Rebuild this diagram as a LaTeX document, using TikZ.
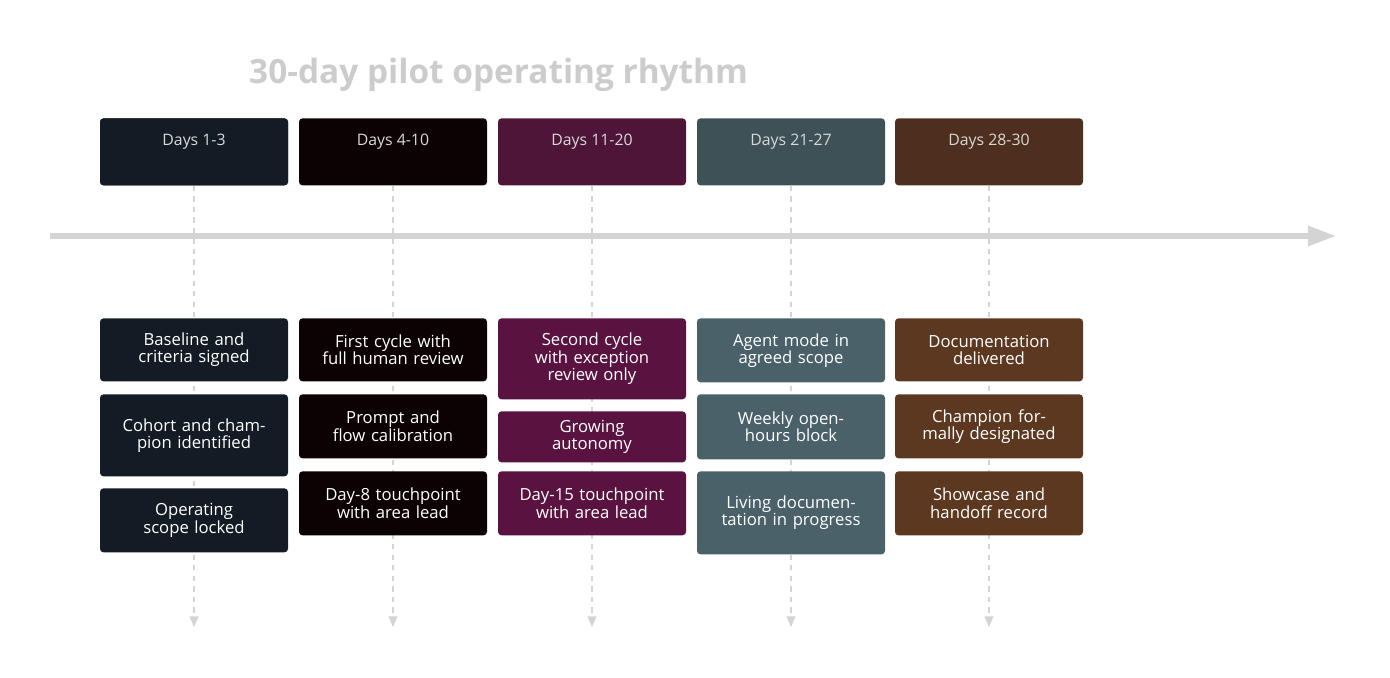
\documentclass[tikz,border=0pt]{standalone}
\usepackage{fontspec}
\setmainfont{Open Sans}
\usetikzlibrary{arrows.meta}
\definecolor{ttl}{HTML}{CCCCCC}
\definecolor{axis}{HTML}{D4D4D4}
\definecolor{hA}{HTML}{131C24}\definecolor{bA}{HTML}{131C24}
\definecolor{hB}{HTML}{0C0203}\definecolor{bB}{HTML}{0C0203}
\definecolor{hC}{HTML}{4F1538}\definecolor{bC}{HTML}{5A1340}
\definecolor{hD}{HTML}{3E5157}\definecolor{bD}{HTML}{4A616A}
\definecolor{hE}{HTML}{4E2E1E}\definecolor{bE}{HTML}{5C3820}
\tikzset{
  phase/.style={fill=#1, rounded corners=2pt, anchor=north, minimum width=188*0.02cm,
    minimum height=67*0.02cm, text=white!85!black, font=\fontsize{9}{10}\selectfont,
    text depth=0pt, inner sep=0pt},
  step/.style={fill=#1, rounded corners=2pt, anchor=north, minimum width=188*0.02cm,
    text width=150*0.02cm, align=center, text=white, inner sep=5pt,
    font=\fontsize{9.5}{9.8}\selectfont},
  guide/.style={draw=axis, dashed, line width=0.8pt, -{Triangle[width=5pt,length=6pt]}},
}
\begin{document}
\begin{tikzpicture}[x=0.02cm,y=-0.02cm]
  \useasboundingbox (0,0) rectangle (1390,678);
  \node[anchor=west, text=ttl, font=\fontsize{19}{20}\selectfont\bfseries] (title) at (243,75) {30-day pilot operating rhythm};

  % headers
  \node[phase=hA] (h1) at (194,118) {\raisebox{28pt}{}Days 1-3};
  \foreach \n/\x/\c/\t in {1/194/hA/Days 1-3, 2/393/hB/Days 4-10, 3/592/hC/Days 11-20, 4/791/hD/Days 21-27, 5/989/hE/Days 28-30}{
    \node[phase=\c, text height=9pt, yshift=0pt] (h\n) at (\x,118) {};
    \node[text=white!85!black, font=\fontsize{9}{10}\selectfont] (ht\n) at (\x,142) {\t};
    \coordinate (e\n) at (\x,627);
  }
  % guides behind the steps
  \foreach \n in {1,...,5}{ \draw[guide] (h\n.south) -- (e\n); }

  % axis
  \coordinate (a0) at (50,236);
  \coordinate (a1) at (1336,236);
  \draw[axis, line width=3pt, -{Triangle[width=11pt,length=16pt]}] (a0) -- (a1);

  % steps
  \node[step=bA, minimum height=63*0.02cm] (s11) at (194,318) {Baseline and criteria signed};
  \node[step=bA, minimum height=82*0.02cm] (s12) at (194,394) {Cohort and champion identified};
  \node[step=bA, minimum height=64*0.02cm] (s13) at (194,488) {Operating scope locked};

  \node[step=bB, minimum height=63*0.02cm] (s21) at (393,318) {First cycle with full human review};
  \node[step=bB, minimum height=64*0.02cm] (s22) at (393,394) {Prompt and flow calibration};
  \node[step=bB, minimum height=64*0.02cm] (s23) at (393,471) {Day-8 touchpoint with area lead};

  \node[step=bC, minimum height=81*0.02cm] (s31) at (592,318) {Second cycle with exception review only};
  \node[step=bC, minimum height=47*0.02cm] (s32) at (592,411) {Growing autonomy};
  \node[step=bC, minimum height=64*0.02cm] (s33) at (592,471) {Day-15 touchpoint with area lead};

  \node[step=bD, minimum height=64*0.02cm] (s41) at (791,318) {Agent mode in agreed scope};
  \node[step=bD, minimum height=65*0.02cm] (s42) at (791,394) {Weekly open-hours block};
  \node[step=bD, minimum height=83*0.02cm] (s43) at (791,471) {Living documentation in progress};

  \node[step=bE, minimum height=63*0.02cm] (s51) at (989,318) {Documentation delivered};
  \node[step=bE, minimum height=64*0.02cm] (s52) at (989,394) {Champion formally designated};
  \node[step=bE, minimum height=64*0.02cm] (s53) at (989,471) {Showcase and handoff record};
\end{tikzpicture}
\end{document}
